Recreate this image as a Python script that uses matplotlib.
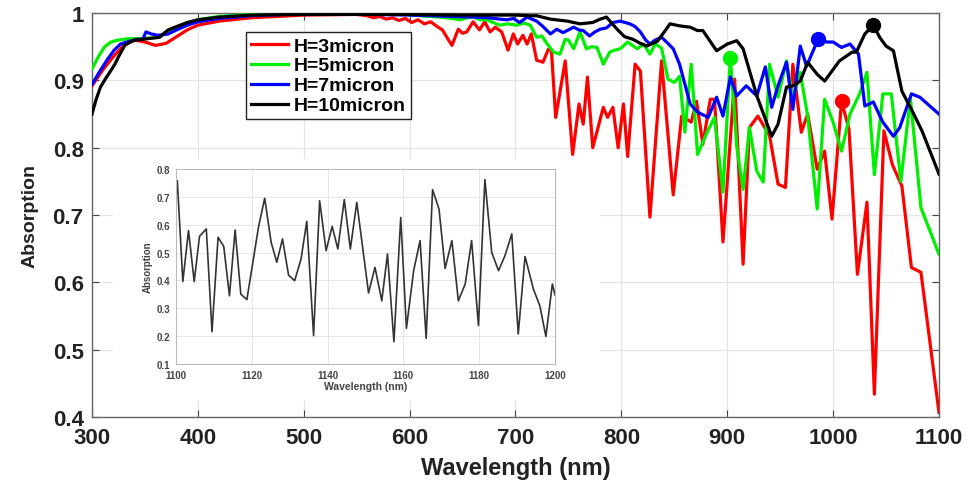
import numpy as np
import matplotlib.pyplot as plt
from matplotlib.patches import Rectangle

# absorption spectra, wavelength in nm
wl_3 = [300, 310, 320, 330, 340, 350, 360, 370, 380, 390, 400, 420, 450, 500, 550, 560, 566, 572, 578,
        584, 590, 596, 602, 608, 614, 620, 626, 631, 636, 640, 646, 650, 654, 660, 666, 671, 676, 681,
        687, 693, 698, 702, 707, 711, 715, 720, 726, 731, 734, 738, 747, 754, 760, 764, 768, 773, 783,
        787, 792, 797, 802, 806, 813, 818, 827, 838, 849, 857, 866, 871, 877, 884, 888, 896, 907, 915,
        921, 929, 940, 948, 955, 962, 970, 976, 985, 992, 999, 1008, 1015, 1023, 1032, 1039, 1048,
        1056, 1065, 1074, 1083, 1100]
abs_3 = [.892, .915, .935, .952, .960, .957, .952, .955, .965, .975, .982, .988, .993, .997, .998, .996,
         .993, .995, .991, .993, .989, .992, .986, .990, .984, .987, .980, .975, .962, .952, .976, .970,
         .972, .987, .975, .987, .972, .979, .972, .945, .969, .954, .967, .954, .969, .930, .927, .946,
         .944, .845, .929, .790, .865, .835, .905, .800, .860, .845, .860, .800, .865, .787, .924, .914,
         .697, .929, .730, .847, .838, .869, .805, .872, .872, .660, .902, .627, .830, .847, .818, .746,
         .741, .924, .823, .850, .768, .795, .694, .869, .828, .612, .719, .434, .825, .775, .743, .622,
         .615, .407]

wl_5 = [300, 306, 312, 318, 325, 335, 345, 355, 362, 370, 380, 390, 400, 420, 450, 500, 550, 600, 610,
        620, 629, 640, 648, 654, 660, 667, 673, 679, 685, 693, 701, 708, 714, 720, 725, 730, 736, 742,
        747, 750, 755, 761, 767, 772, 777, 783, 789, 794, 799, 806, 815, 821, 827, 832, 838, 844, 850,
        855, 860, 866, 872, 881, 888, 896, 903, 909, 915, 921, 928, 934, 940, 948, 956, 962, 969, 976,
        985, 992, 1000, 1008, 1016, 1025, 1032, 1039, 1047, 1055, 1064, 1073, 1083, 1100]
abs_5 = [.917, .935, .950, .957, .960, .962, .962, .963, .964, .970, .978, .985, .990, .995, .998, .999,
         .999, .998, .996, .995, .994, .992, .990, .993, .994, .990, .990, .986, .982, .984, .982, .985,
         .982, .964, .966, .954, .942, .939, .961, .960, .947, .972, .947, .950, .949, .924, .942, .945,
         .947, .957, .947, .954, .939, .954, .948, .902, .897, .906, .823, .924, .790, .823, .845, .734,
         .934, .802, .738, .830, .765, .749, .924, .875, .929, .872, .912, .847, .709, .872, .838, .795,
         .850, .880, .912, .760, .880, .880, .750, .874, .711, .642]

wl_7 = [300, 308, 315, 321, 327, 335, 343, 348, 351, 356, 362, 368, 372, 380, 390, 400, 420, 450, 480,
        520, 560, 600, 620, 640, 660, 675, 685, 692, 698, 704, 711, 720, 726, 733, 739, 745, 750, 755,
        760, 764, 770, 775, 780, 786, 792, 799, 808, 813, 818, 823, 827, 832, 838, 844, 849, 855, 865,
        872, 882, 890, 896, 903, 909, 918, 928, 936, 942, 948, 956, 962, 969, 975, 986, 994, 1000, 1008,
        1016, 1024, 1030, 1038, 1047, 1057, 1063, 1074, 1082, 1100]
abs_7 = [.894, .915, .932, .945, .954, .958, .961, .961, .972, .969, .967, .968, .969, .975, .982, .987,
         .992, .996, .998, .999, .998, .997, .996, .995, .994, .993, .991, .990, .992, .986, .994, .988,
         .980, .969, .976, .971, .975, .979, .975, .974, .966, .972, .976, .978, .986, .988, .984, .980,
         .972, .960, .954, .960, .964, .955, .947, .924, .865, .853, .845, .875, .847, .905, .877, .892,
         .877, .920, .860, .892, .927, .857, .951, .921, .962, .957, .957, .949, .954, .939, .862, .868,
         .838, .817, .830, .880, .875, .850]

wl_10 = [300, 304, 308, 313, 318, 322, 325, 331, 336, 341, 353, 364, 368, 372, 380, 390, 400, 420, 450,
         500, 550, 600, 650, 700, 714, 720, 733, 749, 761, 773, 780, 786, 796, 803, 811, 818, 824, 834,
         841, 846, 855, 865, 872, 877, 890, 900, 909, 915, 928, 942, 948, 956, 962, 969, 976, 985, 992,
         1006, 1018, 1022, 1030, 1038, 1044, 1050, 1057, 1065, 1074, 1084, 1100]
abs_10 = [.850, .872, .890, .903, .915, .925, .935, .952, .957, .960, .962, .964, .970, .975, .980, .986,
          .990, .994, .997, .998, .998, .998, .997, .997, .996, .996, .991, .988, .984, .986, .991, .994,
          .976, .965, .961, .955, .951, .958, .973, .984, .981, .979, .974, .974, .944, .954, .959, .947,
          .877, .817, .835, .890, .892, .899, .927, .909, .899, .929, .942, .942, .969, .982, .964, .951,
          .944, .884, .857, .825, .761]

labels = ['H=3micron', 'H=5micron', 'H=7micron', 'H=10micron']
colors = ['#ff0000', '#00ee00', '#0000ff', '#000000']
peak_wl = [1008, 903, 986, 1038]

# inset: 1100-1200 nm
wl_ins = [1100, 1100.35, 1101.8, 1103.3, 1104.8, 1106.2, 1108.0, 1109.5, 1111.1, 1112.6, 1114.1, 1115.6,
          1117.1, 1118.7, 1121.8, 1123.4, 1125.1, 1126.6, 1128.1, 1129.7, 1131.3, 1133.0, 1134.5, 1136.3,
          1137.9, 1139.6, 1141.2, 1142.7, 1144.4, 1146.0, 1147.7, 1149.3, 1150.8, 1152.5, 1154.3, 1155.8,
          1157.5, 1159.3, 1160.8, 1162.7, 1164.4, 1166.0, 1167.7, 1169.4, 1171.0, 1172.8, 1174.5, 1176.3,
          1178.0, 1179.8, 1181.5, 1183.3, 1185.1, 1186.8, 1188.6, 1190.3, 1192.1, 1194.3, 1196.0, 1197.6,
          1199.3, 1200]
abs_ins = [.70, .758, .396, .579, .396, .558, .585, .216, .555, .522, .345, .581, .351, .331, .594, .695,
           .537, .465, .549, .419, .399, .477, .612, .202, .686, .507, .594, .513, .690, .513, .680, .513,
           .355, .447, .327, .495, .180, .626, .228, .435, .543, .192, .726, .656, .443, .543, .327, .387,
           .543, .238, .762, .501, .435, .489, .567, .208, .486, .369, .309, .199, .387, .348]

font = 'Liberation Sans'

fig = plt.figure(figsize=(9.67, 4.85), dpi=100)
ax = fig.add_axes([0.0951, 0.138, 0.8759, 0.833])

series = [(wl_3, abs_3), (wl_5, abs_5), (wl_7, abs_7), (wl_10, abs_10)]
for (x, y), c, lab in zip(series, colors, labels):
    ax.plot(x, y, color=c, lw=2.3, label=lab, zorder=3)
for (x, y), c, pw in zip(series, colors, peak_wl):
    ax.plot(pw, np.interp(pw, x, y), 'o', color=c, ms=10, zorder=4)

ax.set_xlim(300, 1100)
ax.set_ylim(0.4, 1.0)
ax.set_xticks(range(300, 1101, 100))
ax.set_yticks([0.4, 0.5, 0.6, 0.7, 0.8, 0.9, 1.0])
ax.set_yticklabels(['0.4', '0.5', '0.6', '0.7', '0.8', '0.9', '1'])
ax.grid(True, color='#e4e4e4', lw=0.9)
ax.set_axisbelow(True)
ax.tick_params(direction='in', top=True, right=True, length=5, color='#444444')
ax.tick_params(axis='x', pad=7)
ax.tick_params(axis='y', pad=6)
for lab in ax.get_xticklabels() + ax.get_yticklabels():
    lab.set_fontfamily(font)
    lab.set_fontweight('bold')
    lab.set_fontsize(16)
    lab.set_color('#222222')
for s in ax.spines.values():
    s.set_color('#666666')
    s.set_linewidth(1.0)

ax.set_xlabel('Wavelength (nm)', fontfamily=font, fontweight='bold', fontsize=17, color='#222222',
              labelpad=6)
ax.set_ylabel('Absorption', fontfamily=font, fontweight='bold', fontsize=14, color='#222222',
              labelpad=10)

leg = ax.legend(loc='upper left', bbox_to_anchor=(0.182, 0.953), borderaxespad=0, fancybox=False,
                framealpha=1, edgecolor='#222222', handlelength=1.9, handletextpad=0.3,
                labelspacing=0.12, borderpad=0.25,
                prop={'family': font, 'weight': 'bold', 'size': 14})
leg.get_frame().set_linewidth(1.0)

# white backing for the inset panel
fig.add_artist(Rectangle((113 / 967, 1 - 401 / 485), 487 / 967, 241 / 485, transform=fig.transFigure,
                         facecolor='white', edgecolor='none', zorder=1))

axi = fig.add_axes([176 / 967, 1 - 365 / 485, 379 / 967, 195 / 485], zorder=2)
axi.plot(wl_ins, abs_ins, color='#333333', lw=1.2)
axi.set_xlim(1100, 1200)
axi.set_ylim(0.1, 0.8)
axi.set_xticks(range(1100, 1201, 20))
axi.set_yticks([0.1, 0.2, 0.3, 0.4, 0.5, 0.6, 0.7, 0.8])
axi.grid(True, color='#e6e6e6', lw=0.7)
axi.tick_params(direction='in', length=0, labelsize=7, labelcolor='#444444')
axi.tick_params(axis='x', pad=4)
axi.tick_params(axis='y', pad=4)
for lab in axi.get_xticklabels() + axi.get_yticklabels():
    lab.set_fontweight('bold')
    lab.set_fontfamily(font)
for s in axi.spines.values():
    s.set_color('#bbbbbb')
    s.set_linewidth(0.8)
axi.set_xlabel('Wavelength (nm)', fontsize=7.5, fontweight='bold', color='#444444',
               fontfamily=font, labelpad=1)
axi.set_ylabel('Absorption', fontsize=7, fontweight='bold', color='#444444',
               fontfamily=font, labelpad=3)

fig.savefig('out.png', dpi=100)
